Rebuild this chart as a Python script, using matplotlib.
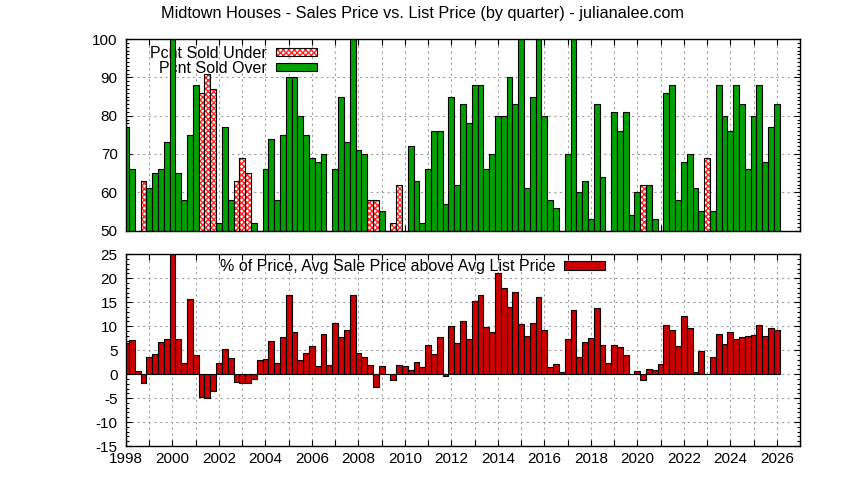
import numpy as np
import matplotlib
matplotlib.use('Agg')
import matplotlib.pyplot as plt
from matplotlib.ticker import MultipleLocator, FuncFormatter
from matplotlib.patches import Patch

plt.rcParams['font.family'] = ['Liberation Sans', 'DejaVu Sans']
plt.rcParams['hatch.linewidth'] = 1.0
plt.rcParams['axes.unicode_minus'] = False

# quarterly data, first bar = 1998 Q1
first_year = 1998
n_quarters = 113
quarters = first_year + 0.25 * np.arange(n_quarters)

N = None
# percent of homes sold over list price (shown when it is the majority)
pct_over = [77, 66, N, N, 61, 65, 66, 73, 100, 65, 58, 75, 88, N, N, N,
            52, 77, 58, N, N, N, 52, N, 66, 74, 58, 75, 90, 90, 80, 75,
            69, 68, 70, N, 66, 85, 73, 100, 71, 70, N, N, 55, N, N, N,
            N, 72, 63, 52, 66, 76, 76, 57, 85, 62, 83, 78, 88, 88, 66, 70,
            80, 80, 90, 83, 100, 61, 85, 100, 80, 58, 56, N, 70, 100, 60, 63,
            53, 83, 64, N, 81, 76, 81, 54, 60, N, 62, 53, N, 86, 88, 58,
            68, 70, 61, 55, N, 55, 88, 80, 76, 88, 83, 66, 80, 88, 68, 77,
            83]
# percent of homes sold under list price (shown when it is the majority)
pct_under = [N, N, N, 63, N, N, N, N, N, N, N, N, N, 86, 91, 87,
             N, N, N, 63, 69, 65, N, N, N, N, N, N, N, N, N, N,
             N, N, N, N, N, N, N, N, N, N, 58, 58, N, N, 52, 62,
             N, N, N, N, N, N, N, N, N, N, N, N, N, N, N, N,
             N, N, N, N, N, N, N, N, N, N, N, N, N, N, N, N,
             N, N, N, N, N, N, N, N, N, 62, N, N, N, N, N, N,
             N, N, N, N, 69, N, N, N, N, N, N, N, N, N, N, N,
             N]
# % avg sale price above avg list price
pct_price = [6.4, 7.1, 0.6, -1.9, 3.5, 4.2, 6.7, 7.3, 25, 7.3, 2.4, 15.6, 4.0, -4.8, -5.0, -3.5,
             2.3, 5.2, 3.3, -1.7, -1.9, -1.9, -1.0, 2.9, 3.1, 6.9, 2.3, 7.7, 16.5, 8.75, 2.9, 4.4,
             5.8, 1.7, 8.3, 1.9, 10.6, 7.7, 9.2, 16.5, 4.4, 3.5, 1.9, -2.7, 1.7, 0, -1.25, 1.9,
             1.7, 0.8, 2.5, 1.5, 6.0, 4.2, 7.7, -0.4, 10.0, 6.5, 11.0, 7.3, 15.2, 16.5, 9.8, 8.75,
             21.0, 17.9, 14.0, 17.1, 10.4, 7.9, 10.6, 16.0, 9.2, 1.5, 2.1, 0.4, 7.3, 13.3, 3.5, 6.7,
             7.5, 13.75, 6.0, 2.3, 6.0, 5.6, 4.0, 0.1, 0.6, -1.25, 1.0, 0.8, 2.1, 10.2, 9.2, 5.8,
             12.1, 9.6, 0.4, 4.8, 0, 3.5, 8.3, 6.25, 8.75, 7.3, 7.7, 7.9, 8.1, 10.2, 7.9, 9.6,
             9.2]

over = np.array(pct_over, dtype=float)
under = np.array(pct_under, dtype=float)
price = np.array(pct_price, dtype=float)

green = '#00a000'
red = '#cc0000'
hatch_red = '#ff2020'
grid_col = '#a0a0a0'
hatch = 'xxxxxx'

fig = plt.figure(figsize=(8.44, 4.8), dpi=100)
ax1 = fig.add_axes([0.1493, 0.5196, 0.7986, 0.399])
ax2 = fig.add_axes([0.1493, 0.0708, 0.7986, 0.3994])


def style_axis(ax, ymaj):
    ax.set_xlim(1998, 2027)
    ax.xaxis.set_major_locator(MultipleLocator(1))
    ax.yaxis.set_major_locator(MultipleLocator(ymaj))
    ax.yaxis.set_minor_locator(MultipleLocator(1))
    ax.tick_params(which='both', direction='in', top=True, right=True, labelsize=11)
    ax.tick_params(which='major', length=4, width=0.8)
    ax.tick_params(which='minor', length=2, width=0.8)
    ax.tick_params(axis='y', pad=6)
    ax.grid(True, which='major', color=grid_col, linestyle=(0, (2, 3)), linewidth=0.8)
    ax.set_axisbelow(True)
    for s in ax.spines.values():
        s.set_linewidth(1.0)


# top: sold over / under
ax1.bar(quarters, over, width=0.25, color=green, edgecolor='black', linewidth=0.8, zorder=2)
ax1.bar(quarters, under, width=0.25, color='white', edgecolor=hatch_red, linewidth=0,
        hatch=hatch, zorder=2)
ax1.bar(quarters, under, width=0.25, fill=False, edgecolor='black', linewidth=0.8, zorder=2)
style_axis(ax1, 10)
ax1.set_ylim(50, 100)
ax1.tick_params(axis='x', labelbottom=False)

under_fill = Patch(facecolor='white', edgecolor=hatch_red, linewidth=0, hatch=hatch)
under_edge = Patch(fill=False, edgecolor='black', linewidth=0.8)
over_patch = Patch(facecolor=green, edgecolor='black', linewidth=0.8)
leg1 = ax1.legend([(under_fill, under_edge), over_patch], ['Pcnt Sold Under', 'Pcnt Sold Over'],
                  loc='upper right', bbox_to_anchor=(0.2864, 0.974), markerfirst=False,
                  frameon=False, handlelength=2.6, handleheight=0.45, handletextpad=0.55,
                  labelspacing=0.0, borderpad=0.1, borderaxespad=0, fontsize=11.5)
leg1.set_zorder(1)

# bottom: % of price
ax2.bar(quarters, price, width=0.25, color=red, edgecolor='black', linewidth=0.8, zorder=2)
style_axis(ax2, 5)
ax2.set_ylim(-15, 25)
ax2.xaxis.set_major_formatter(FuncFormatter(lambda v, p: f'{int(round(v))}' if int(round(v)) % 2 == 0 else ''))
ax2.tick_params(axis='x', pad=4)

price_patch = Patch(facecolor=red, edgecolor='black', linewidth=0.8)
leg2 = ax2.legend([price_patch], ['% of Price, Avg Sale Price above Avg List Price'],
                  loc='upper right', bbox_to_anchor=(0.7136, 0.984), markerfirst=False,
                  frameon=False, handlelength=2.6, handleheight=0.45, handletextpad=0.55,
                  borderpad=0.1, borderaxespad=0, fontsize=11.5)
leg2.set_zorder(1)

fig.text(0.5006, 1 - 18 / 480, 'Midtown Houses - Sales Price vs. List Price (by quarter) - julianalee.com',
         ha='center', va='baseline', fontsize=11.7)

fig.savefig('out.png', dpi=100)
